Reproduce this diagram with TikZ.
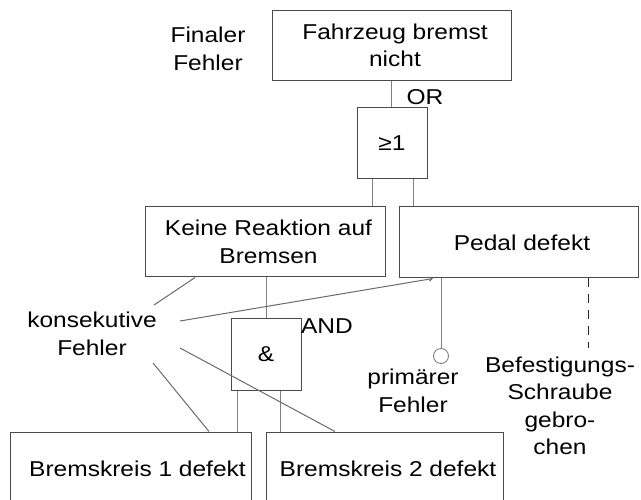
\documentclass[tikz,border=0pt]{standalone}
\usepackage{fontspec}
\setmainfont{Liberation Sans}[FakeStretch=1.14]
\usetikzlibrary{arrows.meta}
\definecolor{boxgray}{HTML}{4A4A4A}
\definecolor{linegray}{HTML}{808080}
\definecolor{notegray}{HTML}{6A6A6A}
% nudges a box line slightly to the right of the box centre
\newcommand{\ind}{\hspace*{7pt}}
\begin{document}
\begin{tikzpicture}[x=1pt,y=-1pt,
  every node/.style={font=\fontsize{21.5}{27.5}\selectfont, inner sep=0pt, align=center, text=black},
  eventbox/.style={draw=boxgray, line width=1pt, rectangle},
  gatebox/.style={draw=boxgray, line width=1pt, rectangle, minimum width=70pt, minimum height=71pt},
  link/.style={draw=linegray, line width=0.9pt},
  note/.style={draw=notegray, line width=1pt},
]
\useasboundingbox (0,0) rectangle (641,500);

% events and gates
\node[eventbox, minimum width=239pt, minimum height=70pt] (final) at (391.5,45.5) {\ind Fahrzeug bremst\\\ind nicht};
\node[gatebox] (or) at (392,143.5) {≥1};
\node (orlabel) at (425,97.5) {OR};
\node[eventbox, minimum width=240pt, minimum height=70pt] (reakt) at (265,242) {\ind Keine Reaktion auf\\\ind Bremsen};
\node[eventbox, minimum width=239pt, minimum height=71pt] (pedal) at (518.5,242.5) {\ind Pedal defekt};
\node[gatebox] (and) at (266,354.5) {\&};
\node (andlabel) at (327,326) {AND};
\node[eventbox, minimum width=241pt, minimum height=74pt] (bk1) at (130.5,469) {\ind\ind Bremskreis 1 defekt};
\node[eventbox, minimum width=237pt, minimum height=74pt] (bk2) at (384.5,469) {\ind Bremskreis 2 defekt};
\node[circle, draw=linegray, line width=0.9pt, minimum size=15pt] (prim) at (441,356) {};

% annotations
\node (finlabel) at (208,49) {Finaler\\Fehler};
\node (konlabel) at (92,334) {konsekutive\\Fehler};
\node (primlabel) at (413,391) {primärer\\Fehler};
\node (boltlabel) at (560,406) {Befestigungs-\\Schraube\\gebro-\\chen};

% tree connectors
\draw[link] (final.south) -- (final.south |- or.north);
\path ([xshift=-20pt]or.south) coordinate (orL) ([xshift=21pt]or.south) coordinate (orR);
\draw[link] (orL) -- (orL |- reakt.north);
\draw[link] (orR) -- (orR |- pedal.north);
\draw[link] (and.north |- reakt.south) -- (and.north);
\path ([xshift=-29pt]and.south) coordinate (andL) ([xshift=14pt]and.south) coordinate (andR);
\draw[link] (andL) -- (andL |- bk1.north);
\draw[link] (andR) -- (andR |- bk2.north);
\draw[link] (pedal.south -| prim.north) -- (prim.north);
\coordinate (boltend) at (588,348);
\draw[draw=black!85, line width=1pt, dash pattern=on 9pt off 7pt] (pedal.south -| boltend) -- (boltend);

% pointers from the consecutive-fault label
\coordinate (k1) at (154,305);
\coordinate (k2) at (180,321);
\coordinate (k3) at (153,363);
\coordinate (k4) at (180,348);
\draw[note] (k1) -- ([xshift=-70pt]reakt.south);
\draw[note, -{Straight Barb[length=3pt,width=4pt]}] (k2) -- ([xshift=-85.5pt]pedal.south);
\draw[note] (k3) -- ([xshift=78.5pt]bk1.north);
\draw[note] (k4) -- ([xshift=-49.5pt]bk2.north);
\end{tikzpicture}
\end{document}
